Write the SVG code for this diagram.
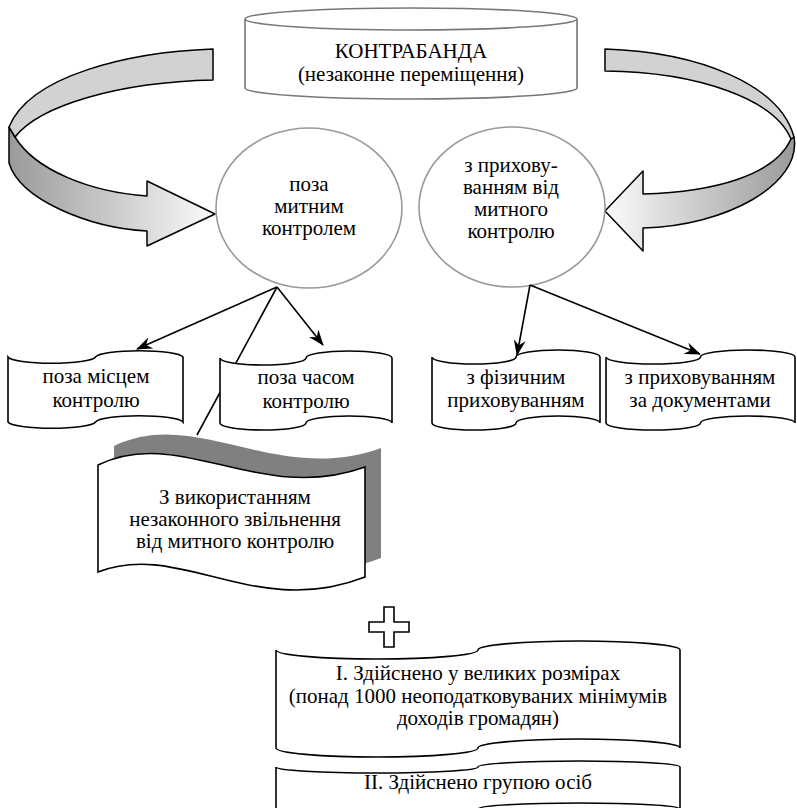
<svg xmlns="http://www.w3.org/2000/svg" width="797" height="808" viewBox="0 0 797 808">
  <style>
    text { font-family: "Liberation Serif", "Times New Roman", serif; font-size: 21px; fill: #000; text-anchor: middle; }
    .tape { fill: #fff; stroke: #000; stroke-width: 1.6; }
    .oval { fill: #fff; stroke: #999; stroke-width: 1.6; }
    .ribbon { stroke: #000; stroke-width: 1.5; stroke-linejoin: round; }
    .link { fill: none; stroke: #000; stroke-width: 1.6; }
  </style>
  <defs>
    <marker id="head" viewBox="0 0 16 12" refX="15" refY="6" markerWidth="16" markerHeight="12" markerUnits="userSpaceOnUse" orient="auto">
      <path d="M0,0 L16,6 L0,12 L5,6 Z" fill="#000"/>
    </marker>
    <linearGradient id="leftLow" x1="0" y1="0" x2="1" y2="0">
      <stop offset="0" stop-color="#9a9a9a"/>
      <stop offset="1" stop-color="#fbfbfb"/>
    </linearGradient>
    <linearGradient id="rightLow" x1="0" y1="0" x2="1" y2="0">
      <stop offset="0" stop-color="#fbfbfb"/>
      <stop offset="1" stop-color="#9a9a9a"/>
    </linearGradient>
  </defs>

  <!-- curved ribbon arrows -->
  <g id="arrow-left">
    <path class="ribbon" fill="url(#leftLow)" d="M9,127 L9,163 C20,200 90,228 147,231 L147,246 L215,214 L147,181 L147,196 C90,192 35,170 15,137 Z"/>
    <path class="ribbon" fill="#d2d2d2" d="M213,49 C130,52 30,75 9,127 L15,137 C40,105 120,82 213,80 Z"/>
  </g>
  <g id="arrow-right">
    <path class="ribbon" fill="url(#rightLow)" d="M794,137 C802,185 725,226 643,228 L643,251 L605,211 L643,171 L643,194 C715,192 775,175 791,139 Z"/>
    <path class="ribbon" fill="#d2d2d2" d="M605,49 C700,52 780,85 794,137 L791,139 C775,100 700,72 605,71 Z"/>
  </g>

  <!-- main category -->
  <g id="contraband">
    <path class="oval" style="stroke:#777" d="M245,19 L245,88 A166,11 0 0 0 577,88 L577,19"/>
    <ellipse class="oval" style="stroke:#777" cx="411" cy="19" rx="166" ry="11"/>
    <text x="411" y="58">КОНТРАБАНДА</text>
    <text x="411" y="81">(незаконне переміщення)</text>
  </g>

  <g id="outside-control">
    <ellipse class="oval" cx="309" cy="208" rx="93" ry="80"/>
    <text x="309" y="191">поза</text>
    <text x="309" y="213">митним</text>
    <text x="309" y="235">контролем</text>
  </g>

  <g id="concealed">
    <ellipse class="oval" cx="512" cy="207" rx="93" ry="80"/>
    <text x="511" y="172">з прихову-</text>
    <text x="511" y="194">ванням від</text>
    <text x="511" y="216">митного</text>
    <text x="511" y="238">контролю</text>
  </g>

  <!-- connectors -->
  <g id="connectors">
    <line class="link" x1="277" y1="287" x2="197" y2="435"/>
    <line class="link" x1="277" y1="287" x2="137" y2="349" marker-end="url(#head)"/>
    <line class="link" x1="277" y1="287" x2="323" y2="345" marker-end="url(#head)"/>
    <line class="link" x1="530" y1="285" x2="517" y2="355" marker-end="url(#head)"/>
    <line class="link" x1="530" y1="285" x2="700" y2="354" marker-end="url(#head)"/>
  </g>

  <g id="outside-place">
    <path class="tape" d="M8,357 A44,7 0 0 0 95.5,357 A44,7 0 0 1 183,357 L183,422 A44,7 0 0 0 95.5,422 A44,7 0 0 1 8,422 Z"/>
    <text x="96" y="383">поза місцем</text>
    <text x="96" y="407">контролю</text>
  </g>

  <g id="outside-time">
    <path class="tape" d="M220,358 A43,7 0 0 0 306,358 A43,7 0 0 1 392,358 L392,423 A43,7 0 0 0 306,423 A43,7 0 0 1 220,423 Z"/>
    <text x="306" y="384">поза часом</text>
    <text x="306" y="408">контролю</text>
  </g>

  <g id="physical">
    <path class="tape" d="M432,357 A42,7 0 0 0 516,357 A42,7 0 0 1 600,357 L600,423 A42,7 0 0 0 516,423 A42,7 0 0 1 432,423 Z"/>
    <text x="516" y="384">з фізичним</text>
    <text x="516" y="407">приховуванням</text>
  </g>

  <g id="documents">
    <path class="tape" d="M606,357 A47,7 0 0 0 700.5,357 A47,7 0 0 1 795,357 L795,423 A47,7 0 0 0 700.5,423 A47,7 0 0 1 606,423 Z"/>
    <text x="700" y="384">з приховуванням</text>
    <text x="700" y="407">за документами</text>
  </g>

  <g id="exemption">
    <path fill="#808080" d="M114,446 C196,406 276,486 381,448 L381,558 C271,601 196,521 114,553 Z"/>
    <path class="tape" d="M98,465 C180,425 260,505 365,467 L365,577 C255,620 180,540 98,572 Z"/>
    <text x="235" y="504">З використанням</text>
    <text x="235" y="526">незаконного звільнення</text>
    <text x="235" y="548">від митного контролю</text>
  </g>

  <g id="plus">
    <polygon fill="#fff" stroke="#000" stroke-width="1.6" points="384,607 394,607 394,622 409,622 409,632 394,632 394,647 384,647 384,632 369,632 369,622 384,622"/>
  </g>

  <g id="large-scale">
    <path class="tape" d="M276,650 A101,9 0 0 0 478,650 A101,9 0 0 1 680,650 L680,748 A101,9 0 0 0 478,748 A101,9 0 0 1 276,748 Z"/>
    <text x="478" y="680">І. Здійснено у великих розмірах</text>
    <text x="478" y="703">(понад 1000 неоподатковуваних мінімумів</text>
    <text x="478" y="725">доходів громадян)</text>
  </g>

  <g id="group">
    <path class="tape" d="M276,767 A101,6 0 0 0 478,767 A101,6 0 0 1 680,767 L680,809 A101,6 0 0 0 478,809 A101,6 0 0 1 276,809 Z"/>
    <text x="478" y="789">ІІ. Здійснено групою осіб</text>
  </g>
</svg>
